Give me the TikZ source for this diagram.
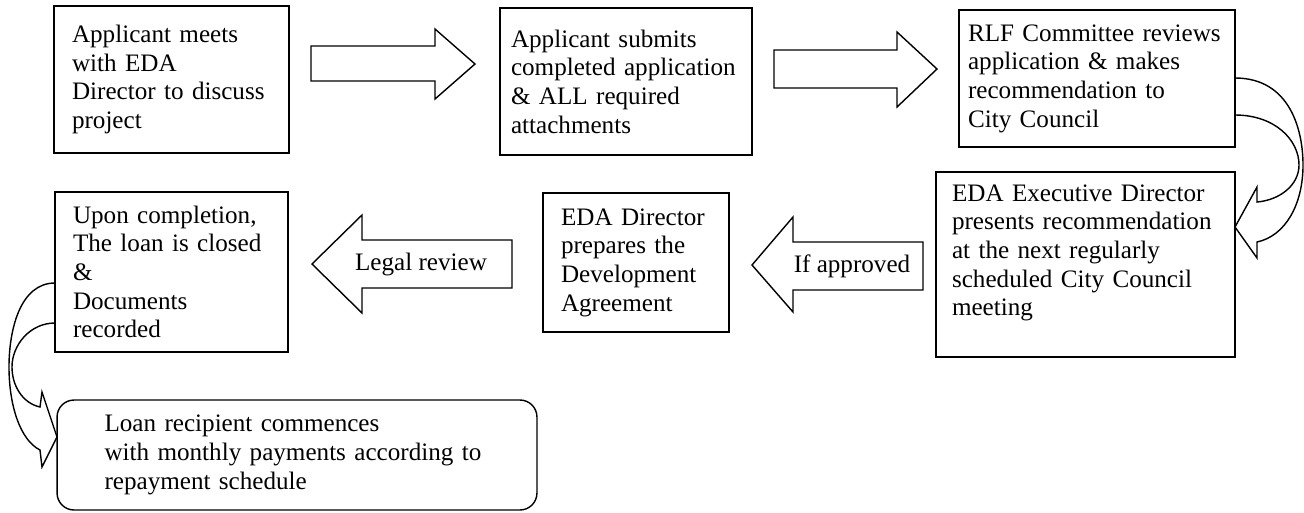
\documentclass[tikz,border=0pt]{standalone}
\usepackage{fontspec}
\setmainfont{Liberation Serif}
\begin{document}
\begin{tikzpicture}[x=0.02cm, y=-0.02cm,
    stage/.style={draw, line width=0.8pt, align=left, inner ysep=1pt, inner xsep=0.36cm,
        font=\fontsize{14.3}{16.3}\selectfont},
    blockarrow/.style={draw, line width=0.8pt, line join=miter},
    tag/.style={inner sep=1pt, font=\fontsize{14.3}{16.3}\selectfont}]

    \useasboundingbox (0,0) rectangle (1304,512);

    % Top row of steps
    \node[stage, minimum width=4.70cm, minimum height=2.94cm, text width=3.98cm] (apply) at (171.5,79.5)
        {Applicant meets\\with EDA\\Director to discuss\\project};
    \node[stage, minimum width=5.04cm, minimum height=2.94cm, inner xsep=0.22cm, text width=4.60cm] (submit) at (626,81.5)
        {Applicant submits\\completed application\\\& ALL required\\attachments};
    \node[stage, minimum width=5.52cm, minimum height=2.74cm, inner xsep=0.18cm, text width=5.16cm] (review) at (1097,78.5)
        {RLF Committee reviews\\application \& makes\\recommendation to\\City Council};

    % Second row of steps
    \node[stage, minimum width=5.98cm, minimum height=3.70cm, inner xsep=0.32cm, text width=5.34cm] (present) at (1085.5,264.5)
        {EDA Executive Director\\presents recommendation\\at the next regularly\\scheduled City Council\\meeting\\\mbox{}};
    \node[stage, minimum width=3.72cm, minimum height=2.78cm, text width=3.00cm] (prepare) at (636,262.5)
        {EDA Director\\prepares the\\Development\\Agreement};
    \node[stage, minimum width=4.66cm, minimum height=3.20cm, text width=3.94cm] (close) at (171.5,272)
        {Upon completion,\\The loan is closed\\\&\\Documents\\recorded};

    % Last step, rounded
    \node[stage, rounded corners=0.34cm, minimum width=9.60cm, minimum height=2.20cm, inner xsep=0.95cm, text width=7.70cm] (repay) at (297,455)
        {Loan recipient commences\\with monthly payments according to\\repayment schedule};

    % Block arrows pointing right
    \draw[blockarrow] (311,46) -- (435,46) -- (435,29) -- (475,64) -- (435,99) -- (435,81) -- (311,81) -- cycle;
    \draw[blockarrow] (774,50) -- (897,50) -- (897,32) -- (937,69) -- (897,107) -- (897,88) -- (774,88) -- cycle;

    % Block arrows pointing left, with labels
    \draw[blockarrow] (923,242) -- (793,242) -- (793,217) -- (752,265) -- (793,312) -- (793,290) -- (923,290) -- cycle;
    \node[tag] (approved) at (852,266) {If approved};
    \draw[blockarrow] (512,240) -- (362,240) -- (362,215) -- (312,264) -- (362,313) -- (362,288) -- (512,288) -- cycle;
    \node[tag] (legal) at (421,264) {Legal review};

    % Curved arrow from the committee down to the council step
    \draw[blockarrow] (1235,78) .. controls (1290,78) and (1303,130) .. (1303,165)
        .. controls (1303,205) and (1285,236) .. (1257,242)
        -- (1257,258) -- (1235,227) -- (1257,187) -- (1257,202)
        .. controls (1280,200) and (1299,185) .. (1299,165)
        .. controls (1299,140) and (1275,115) .. (1235,115);

    % Curved arrow from the closed loan down to the payments
    \draw[blockarrow] (55,283) .. controls (20,283) and (9,330) .. (9,367)
        .. controls (9,405) and (20,440) .. (40,450)
        -- (42,467) -- (57,437) -- (42,392) -- (40,407)
        .. controls (22,403) and (12,385) .. (12,367)
        .. controls (12,345) and (30,323) .. (55,323);

\end{tikzpicture}
\end{document}
